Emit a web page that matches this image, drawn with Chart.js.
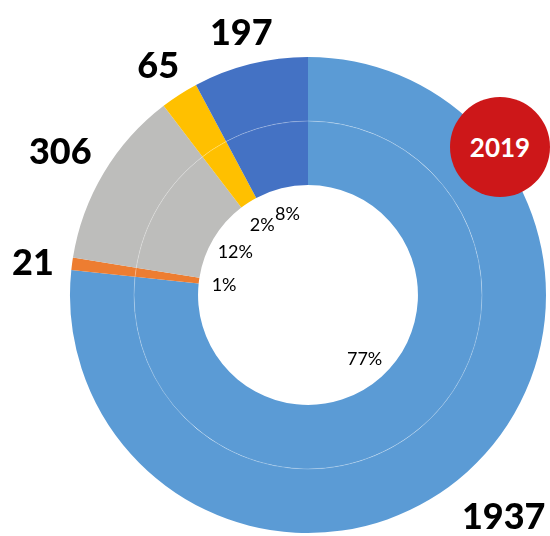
<!DOCTYPE html>
<html>
<head>
<meta charset="utf-8">
<script src="https://cdn.jsdelivr.net/npm/chart.js@4"></script>
<style>
html,body{margin:0;padding:0;background:#fff;}
#wrap{position:relative;width:550px;height:536px;}
#badge{position:absolute;left:450px;top:97px;width:100px;height:100px;border-radius:50%;background:#CD1719;color:#fff;font:bold 26px Lato,"Open Sans",sans-serif;display:flex;align-items:center;justify-content:center;}
</style>
</head>
<body>
<div id="wrap">
<canvas id="c" width="550" height="536"></canvas>
<div id="badge">2019</div>
</div>
<script>
const categories = ['A', 'B', 'C', 'D', 'E'];
const values = [1937, 21, 306, 65, 197];
const valueLabels = ['1937', '21', '306', '65', '197'];
const pctLabels = ['77%', '1%', '12%', '2%', '8%'];
const colors = ['#5B9BD5', '#ED7D31', '#BDBDBB', '#FFC000', '#4472C4'];

const labelPlugin = {
  id: 'labels',
  afterDatasetsDraw(chart) {
    const ctx = chart.ctx;
    const outer = chart.getDatasetMeta(0).data;
    const inner = chart.getDatasetMeta(1).data;
    ctx.save();
    if (inner.length) {
      const p = inner[0].getProps(['x', 'y', 'outerRadius', 'innerRadius']);
      ctx.beginPath();
      ctx.arc(p.x, p.y, p.outerRadius, 0, Math.PI * 2);
      ctx.strokeStyle = 'rgba(255,255,255,0.25)';
      ctx.lineWidth = 1;
      ctx.stroke();
    }
    ctx.font = '900 36px Lato, "Open Sans", sans-serif';
    ctx.fillStyle = '#000';
    ctx.textAlign = 'center';
    ctx.textBaseline = 'middle';
    const capH = 26;
    outer.forEach((arc, i) => {
      const p = arc.getProps(['x', 'y', 'startAngle', 'endAngle', 'outerRadius']);
      const a = (p.startAngle + p.endAngle) / 2;
      const w = ctx.measureText(valueLabels[i]).width;
      const ext = Math.abs(w / 2 * Math.cos(a)) + Math.abs(capH / 2 * Math.sin(a));
      const r = p.outerRadius + 17 + ext;
      ctx.fillText(valueLabels[i], p.x + r * Math.cos(a), p.y + r * Math.sin(a) + 5);
    });
    ctx.font = '18px Lato, "Open Sans", sans-serif';
    inner.forEach((arc, i) => {
      const p = arc.getProps(['x', 'y', 'startAngle', 'endAngle', 'innerRadius']);
      const a = (p.startAngle + p.endAngle) / 2;
      const r = p.innerRadius * 0.77;
      ctx.fillText(pctLabels[i], p.x + r * Math.cos(a), p.y + r * Math.sin(a) + 1);
    });
    ctx.restore();
  }
};

new Chart(document.getElementById('c'), {
  type: 'doughnut',
  data: {
    labels: categories,
    datasets: [
      { data: values, backgroundColor: colors, borderWidth: 0, hoverOffset: 0 },
      { data: values, backgroundColor: colors, borderWidth: 0, hoverOffset: 0 }
    ]
  },
  options: {
    responsive: false,
    animation: false,
    cutout: '46.2%',
    layout: { padding: { left: 70, right: 4, top: 57, bottom: 3 } },
    plugins: { legend: { display: false }, tooltip: { enabled: false } }
  },
  plugins: [labelPlugin]
});
</script>
</body>
</html>
